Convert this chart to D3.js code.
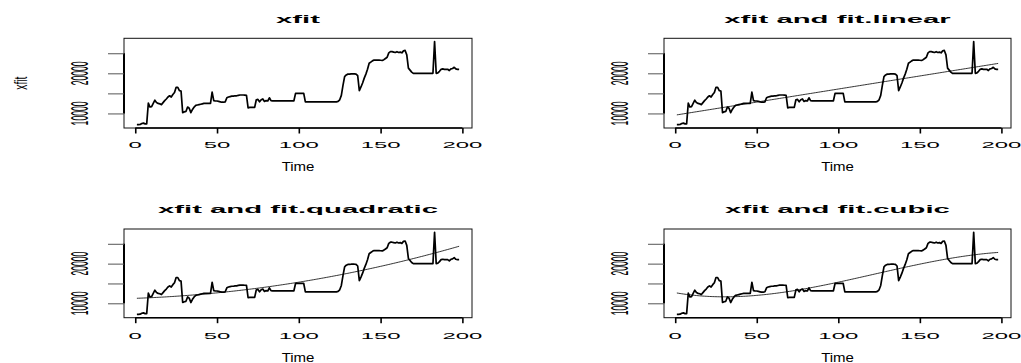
<!DOCTYPE html>
<html><head><meta charset="utf-8">
<script src="https://cdn.jsdelivr.net/npm/d3@7"></script>
<style>body{margin:0;background:#fff} svg{display:block} text{font-family:"Liberation Sans",Arial,Helvetica,sans-serif;fill:#000}</style>
</head><body>
<script>
// ---- data ----
const timeStart = 1;
const xfit = [
  7200, 7200, 7250, 7500, 7600, 7400, 7400, 12600, 11600, 11700,          // 1-10
  12500, 13300, 12700, 12500, 12400, 12200, 12700, 13200, 13600, 14100,   // 11-20
  14400, 14100, 14700, 15200, 16500, 16500, 15700, 15600, 10200, 10400,   // 21-30
  10500, 11600, 11300, 10200, 11000, 11600, 12000, 12100, 12200, 12300,   // 31-40
  12400, 12500, 12500, 12500, 12500, 12500, 15300, 13200, 13100, 13100,   // 41-50
  13000, 12900, 12800, 12800, 12900, 13900, 14100, 14200, 14300, 14300,   // 51-60
  14400, 14400, 14500, 14600, 14600, 14600, 14550, 14500, 11400, 11500,   // 61-70
  11500, 11500, 11500, 13400, 13500, 12900, 13400, 13600, 13000, 13200,   // 71-80
  13100, 13900, 13200, 13150, 13150, 13150, 13150, 13150, 13150, 13150,   // 81-90
  13150, 13150, 13150, 13150, 13150, 13150, 13150, 15000, 15000, 15000,   // 91-100
  15000, 15000, 15000, 12900, 12900, 12900, 12900, 12900, 12900, 12900,   // 101-110
  12900, 12900, 12900, 12900, 12900, 12900, 12900, 12900, 12900, 12900,   // 111-120
  12900, 12900, 12900, 13000, 13400, 14500, 17000, 19200, 19600, 19800,   // 121-130
  19800, 19850, 19850, 19850, 19800, 19400, 15700, 16600, 17600, 18800,   // 131-140
  19800, 21000, 22500, 22800, 23100, 23300, 23300, 23300, 23300, 23250,   // 141-150
  23200, 23400, 23700, 24000, 25100, 25400, 25400, 25300, 25200, 25400,   // 151-160
  25200, 25300, 25100, 25600, 25700, 24600, 21300, 20800, 20300, 20000,   // 161-170
  20000, 20000, 20000, 20000, 20000, 20000, 20000, 20000, 20000, 20000,   // 171-180
  20000, 20000, 27900, 20000, 20100, 20500, 21000, 21100, 21000, 21000,   // 181-190
  21000, 20700, 21100, 21200, 21500, 21100, 21000, 21000                  // 191-198
];
// fitted trend coefficients (constant, t, t^2, t^3)
const fitLinear    = [9575, 65.1];
const fitQuadratic = [11250, 14.7, 0.2605];
const fitCubic     = [12675, -72.0, 1.3547, -0.003698];

const xTicks = [0, 50, 100, 150, 200];
const yTicks = [10000, 15000, 20000, 25000];
const yTickLabels = ["10000", "", "20000", ""];
const titles = ["xfit", "xfit and fit.linear", "xfit and fit.quadratic", "xfit and fit.cubic"];
const xLabel = "Time";
const yLabel = "xfit";

// ---- layout ----
const W = 1021, H = 363;
const cols = [{x0: 124, x1: 472}, {x0: 664, x1: 1011}];
const rows = [
  {y0: 38.3, y1: 128, title: 22.7, tick: 148.3, lab: 171},
  {y0: 229, y1: 317.7, title: 212.5, tick: 339.2, lab: 361.7}
];
const panels = [
  {c: 0, r: 0, title: titles[0], fit: null, ylab: true},
  {c: 1, r: 0, title: titles[1], fit: fitLinear},
  {c: 0, r: 1, title: titles[2], fit: fitQuadratic},
  {c: 1, r: 1, title: titles[3], fit: fitCubic}
];

const times = xfit.map((_, i) => timeStart + i);
const poly = (co, t) => co.reduce((s, c, k) => s + c * Math.pow(t, k), 0);

const svg = d3.select("body").append("svg").attr("width", W).attr("height", H);

function txt(g, str, x, y, o) {
  return g.append("text")
    .attr("transform", `translate(${x},${y}) rotate(${o.rot || 0}) scale(${o.sx || 1},${o.sy || 1})`)
    .attr("text-anchor", "middle")
    .attr("font-size", o.size)
    .attr("font-weight", o.weight || "normal")
    .text(str);
}

function pad(ext) { const d = (ext[1] - ext[0]) * 0.04; return [ext[0] - d, ext[1] + d]; }

panels.forEach(p => {
  const C = cols[p.c], R = rows[p.r];
  const g = svg.append("g");
  const x = d3.scaleLinear().domain(pad(d3.extent(times))).range([C.x0, C.x1]);
  const y = d3.scaleLinear().domain(pad(d3.extent(xfit))).range([R.y1, R.y0]);

  // data line
  g.append("path")
    .attr("d", d3.line().x((d, i) => x(times[i])).y(d => y(d))(xfit))
    .attr("fill", "none").attr("stroke", "#000").attr("stroke-width", 1.7)
    .attr("stroke-linejoin", "round");

  if (p.fit) {
    g.append("path")
      .attr("d", d3.line().x(t => x(t)).y(t => y(poly(p.fit, t)))(times))
      .attr("fill", "none").attr("stroke", "#000").attr("stroke-width", 0.8);
  }

  // box
  g.append("rect").attr("x", C.x0).attr("y", R.y0)
    .attr("width", C.x1 - C.x0).attr("height", R.y1 - R.y0)
    .attr("fill", "none").attr("stroke", "#111").attr("stroke-width", 1);

  // x axis
  const xa = g.append("g").attr("transform", `translate(0,${R.y1})`)
    .call(d3.axisBottom(x).tickValues(xTicks).tickSize(5.5).tickFormat(""));
  xa.select(".domain").attr("d", `M${x(xTicks[0])},0H${x(xTicks[xTicks.length - 1])}`)
    .attr("stroke", "#000").attr("stroke-width", 1.4);
  xa.selectAll(".tick line").attr("stroke", "#000").attr("stroke-width", 1.6);
  xTicks.forEach(t => txt(g, String(t), x(t), R.tick, {size: 9.2, sx: 2.6}));
  txt(g, xLabel, (C.x0 + C.x1) / 2, R.lab, {size: 12, sx: 1.25});

  // y axis
  const ya = g.append("g").attr("transform", `translate(${C.x0},0)`)
    .call(d3.axisLeft(y).tickValues(yTicks).tickSize(16).tickFormat(""));
  ya.select(".domain").attr("d", `M0,${y(yTicks[0])}V${y(yTicks[yTicks.length - 1])}`)
    .attr("stroke", "#000").attr("stroke-width", 2);
  ya.selectAll(".tick line").attr("stroke", "#555").attr("stroke-width", 1);
  yTicks.forEach((t, i) => {
    if (yTickLabels[i]) txt(g, yTickLabels[i], C.x0 - 36, y(t), {size: 8.6, rot: -90, sy: 2.7});
  });
  if (p.ylab) txt(g, yLabel, C.x0 - 97, (R.y0 + R.y1) / 2, {size: 10.4, rot: -90, sy: 1.84});

  // title
  txt(g, p.title, (C.x0 + C.x1) / 2, R.title, {size: 11.5, sx: 2.55, weight: "bold"});
});
</script>
</body></html>
